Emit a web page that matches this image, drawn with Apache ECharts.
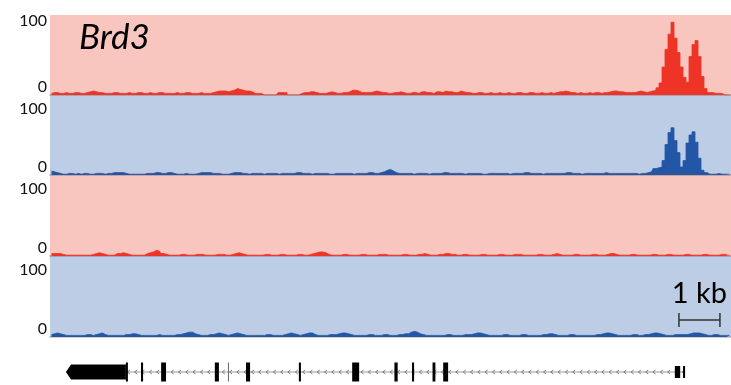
<!DOCTYPE html>
<html>
<head>
<meta charset="utf-8">
<script src="https://cdn.jsdelivr.net/npm/echarts@6/dist/echarts.min.js"></script>
<style>
  html, body { margin: 0; padding: 0; background: #fff; }
  #chart { width: 731px; height: 385px; }
</style>
</head>
<body>
<div id="chart"></div>
<script>
// --- data (3 px bins, 1 kb = 41 px) ---
const BIN_KB = 3 / 41
const geneName = "Brd3"
const yTickLabels = ["0", "100"]

// track 1 (red)
const red1 = [
  2,3,3,2,2,3,2,2,3,3, 2,2,3,4,5,4,3,3,2,2, 2,3,3,2,2,2,3,2,2,3, 3,2,2,3,2,2,3,3,2,2,
  2,2,3,2,2,3,3,2,2,2, 3,2,2,2,3,4,5,5,5,4, 5,6,8,7,6,5,5,4,2,2, 2,0,0,0,0,0,3,3,3,0,
  0,0,0,2,3,3,4,4,3,2, 2,2,3,4,3,2,2,3,3,4, 6,6,5,3,3,3,3,4,5,4, 3,3,2,2,3,3,4,3,2,2,
  3,3,2,4,4,3,3,2,4,4, 3,5,4,4,3,3,5,4,3,3, 2,2,3,3,2,2,3,2,2,3, 2,2,3,2,2,3,3,2,2,3,
  3,2,2,3,2,2,3,2,3,4, 4,5,4,3,3,2,3,2,2,3, 2,3,3,2,3,3,4,5,5,4, 4,3,3,3,3,4,5,4,3,4,
  5,6,9,15,35,57,76,91,71,53, 35,22,16,48,63,68,48,23,8,3, 3,2,2,2,0,0,0
]
// track 2 (blue)
const blue1 = [
  5,4,3,2,1,1,2,2,1,2, 1,2,2,1,1,2,2,2,1,2, 2,3,3,3,3,2,1,1,1,1, 1,1,2,2,2,3,3,2,2,3,
  3,2,1,1,1,2,1,1,1,2, 3,3,3,3,2,2,2,1,1,1, 2,3,3,3,2,2,1,2,2,2, 2,1,2,2,2,2,1,2,2,2,
  2,2,3,3,2,2,2,1,2,2, 2,2,2,1,1,2,2,2,2,2, 2,1,2,2,2,2,3,3,2,2, 3,4,6,7,5,3,2,2,2,2,
  2,1,2,2,2,2,1,2,2,2, 2,3,3,2,2,2,2,2,1,2, 2,2,2,2,1,1,2,2,2,2, 2,2,2,1,2,2,2,2,3,3,
  2,2,2,2,1,2,2,2,2,2, 2,2,3,3,2,2,2,1,2,2, 2,2,2,2,2,3,2,2,2,2, 2,2,2,2,2,2,1,2,2,3,
  4,8,9,10,18,38,53,59,43,28, 10,18,40,50,54,41,21,6,3,1, 1,1,2,1,1,1,1
]
// track 3 (red)
const red2 = [
  3,3,3,3,2,1,1,1,1,1, 1,1,1,1,2,3,4,3,2,1, 1,1,3,3,4,3,2,1,1,1, 1,1,3,4,5,7,6,3,2,1,
  1,1,1,2,2,1,1,1,2,2, 2,1,1,1,1,2,2,2,1,1, 2,3,4,3,2,1,1,1,1,1, 1,2,2,1,1,1,2,2,1,1,
  1,1,2,2,1,1,2,3,4,5, 5,4,2,1,1,1,1,2,2,1, 1,1,1,2,2,1,1,1,1,2, 2,2,1,1,1,1,1,2,2,1,
  1,1,2,2,3,2,1,1,1,2, 2,3,3,2,2,1,1,2,2,1, 1,1,1,2,2,1,1,1,1,2, 2,1,1,1,2,2,2,1,1,1,
  1,1,2,2,1,1,1,2,3,2, 1,1,1,1,2,2,1,1,1,1, 2,2,1,1,1,2,3,3,2,1, 1,1,1,2,2,1,1,1,1,1,
  2,2,1,1,1,2,2,1,1,1, 1,2,2,1,1,1,1,2,2,1, 1,1,1,2,2,1,1
]
// track 4 (blue)
const blue2 = [
  3,4,5,4,3,2,2,2,2,2, 2,2,3,3,2,3,4,5,3,2, 2,2,2,2,2,3,3,4,4,3, 2,2,2,2,2,2,3,2,2,2,
  2,2,3,3,4,5,6,6,4,3, 2,2,2,3,3,4,5,4,3,2, 3,4,5,4,3,2,2,2,2,2, 2,2,3,3,2,2,2,2,3,4,
  5,4,3,2,3,4,5,5,3,2, 2,2,2,3,3,3,4,5,5,4, 3,2,2,2,2,2,3,3,2,2, 2,3,3,2,2,2,3,3,4,4,
  6,7,6,4,3,2,2,2,2,2, 2,2,3,3,2,2,2,2,3,3, 3,4,5,5,4,3,2,2,2,2, 2,3,3,2,2,2,2,3,3,2,
  2,2,2,2,3,3,4,4,3,2, 2,2,2,3,3,2,2,2,2,2, 2,2,3,3,4,5,5,4,3,2, 2,2,2,2,3,3,2,2,3,3,
  4,5,5,4,3,2,2,2,3,3, 3,3,3,4,5,5,5,4,3,2, 2,3,3,2,2,2,2
]

// gene model (kb from left edge): [start, end, kind]
const exons = [
  [0.39, 1.85, "arrow"],
  [1.85, 1.90, "cds"], [2.22, 2.27, "cds"], [2.71, 2.83, "cds"], [4.02, 4.12, "cds"],
  [4.34, 4.36, "faint"], [4.78, 4.88, "cds"], [6.07, 6.12, "cds"], [7.37, 7.54, "cds"],
  [8.40, 8.48, "cds"], [8.83, 8.88, "cds"], [9.33, 9.40, "cds"], [9.59, 9.71, "cds"],
  [15.24, 15.37, "utr"], [15.44, 15.49, "utr"]
]
const intron = [0.39, 15.49]
const scaleBarKb = [15.34, 16.34]
const scaleBarLabel = "1 kb"

const tracks = [
  { data: red1, fill: "#ee3327", bg: "#f9c5bf", top: 15, height: 80, padTop: 11 },
  { data: blue1, fill: "#2357a6", bg: "#bdcde6", top: 95, height: 80, padTop: 28 },
  { data: red2, fill: "#ee3327", bg: "#f9c5bf", top: 175, height: 81, padTop: 28 },
  { data: blue2, fill: "#2357a6", bg: "#bdcde6", top: 256, height: 81, padTop: 28 }
]

const nBins = red1.length
const bins = red1.map((_, i) => String(i))
const FONT = "Lato"

const chart = echarts.init(document.getElementById("chart"), null, { renderer: "canvas" })

const grids = tracks.map(t => ({
  left: 50, right: 0, top: t.top, height: t.height,
  show: true, backgroundColor: t.bg, borderWidth: 0
}))
grids.push({ left: 50, right: 0, top: 359, height: 30 })

const xAxes = tracks.map((t, i) => ({
  type: "category", gridIndex: i, data: bins, boundaryGap: true,
  axisTick: { show: false }, axisLabel: { show: false },
  axisLine: { show: true, lineStyle: { color: "rgba(110,80,80,0.3)", width: 2 } }
}))
xAxes.push({ type: "value", gridIndex: 4, min: 0, max: nBins * BIN_KB, show: false })

const yAxes = tracks.map((t, i) => ({
  type: "value", gridIndex: i, min: 0, max: 100, interval: 100,
  splitLine: { show: false }, axisLine: { show: false }, axisTick: { show: false },
  axisLabel: {
    margin: 3,
    formatter: v => v === 100 ? `{hi|${yTickLabels[1]}}` : `{lo|${yTickLabels[0]}}`,
    rich: {
      hi: { fontFamily: FONT, fontSize: 16, color: "#111", padding: [t.padTop, 0, 0, 0] },
      lo: { fontFamily: FONT, fontSize: 16, color: "#111", padding: [0, 0, 16, 0] }
    }
  }
}))
yAxes.push({ type: "value", gridIndex: 4, min: -1, max: 1, show: false })

// coverage tracks as stepped filled areas
const series = tracks.map((t, i) => ({
  type: "line", xAxisIndex: i, yAxisIndex: i, data: t.data,
  step: "middle", symbol: "none", silent: true,
  lineStyle: { color: t.fill, width: 0.8 },
  areaStyle: { color: t.fill, opacity: 1 }
}))

// intron line with small chevrons
series.push({
  type: "custom", xAxisIndex: 4, yAxisIndex: 4, silent: true,
  data: [intron],
  renderItem: (params, api) => {
    const a = api.coord([api.value(0), 0])
    const b = api.coord([api.value(1), 0])
    const children = [{
      type: "line", shape: { x1: a[0], y1: a[1], x2: b[0], y2: b[1] },
      style: { stroke: "#999", lineWidth: 1 }
    }]
    for (let x = a[0] + 4; x < b[0]; x += 7.3) {
      children.push({
        type: "polyline",
        shape: { points: [[x + 1.5, a[1] - 2], [x - 1, a[1]], [x + 1.5, a[1] + 2]] },
        style: { stroke: "#777", lineWidth: 1, fill: null }
      })
    }
    return { type: "group", children }
  }
})

// exons
series.push({
  type: "custom", xAxisIndex: 4, yAxisIndex: 4, silent: true,
  data: exons,
  renderItem: (params, api) => {
    const kind = exons[params.dataIndex][2]
    const s = api.coord([api.value(0), 0])
    const e = api.coord([api.value(1), 0])
    const cy = s[1]
    if (kind === "arrow") {
      const h = 7.5
      return {
        type: "polygon",
        shape: { points: [[s[0], cy], [s[0] + 5, cy - h], [e[0], cy - h], [e[0], cy + h], [s[0] + 5, cy + h]] },
        style: { fill: "#000" }
      }
    }
    const h = kind === "utr" ? 6 : 9.5
    const w = Math.max(kind === "faint" ? 1 : 2, e[0] - s[0])
    return {
      type: "rect",
      shape: { x: s[0], y: cy - h, width: w, height: h * 2 },
      style: { fill: kind === "faint" ? "#666" : "#000" }
    }
  }
})

chart.setOption({
  animation: false,
  grid: grids,
  xAxis: xAxes,
  yAxis: yAxes,
  series: series
})

// annotations: gene name and scale bar
const p0 = chart.convertToPixel({ gridIndex: 4 }, [scaleBarKb[0], 0])[0]
const p1 = chart.convertToPixel({ gridIndex: 4 }, [scaleBarKb[1], 0])[0]
const barY = 320
chart.setOption({
  graphic: [
    {
      type: "text", left: 79, top: 20,
      style: { text: geneName, font: `italic 35px ${FONT}`, fill: "#000" }
    },
    {
      type: "group", children: [
        { type: "line", shape: { x1: p0, y1: barY, x2: p1, y2: barY }, style: { stroke: "#333", lineWidth: 1.5 } },
        { type: "line", shape: { x1: p0, y1: barY - 7, x2: p0, y2: barY + 7 }, style: { stroke: "#333", lineWidth: 1.5 } },
        { type: "line", shape: { x1: p1, y1: barY - 7, x2: p1, y2: barY + 7 }, style: { stroke: "#333", lineWidth: 1.5 } }
      ]
    },
    {
      type: "text", x: (p0 + p1) / 2, y: 308,
      style: { text: scaleBarLabel, font: `29px ${FONT}`, fill: "#000", textAlign: "center", textVerticalAlign: "bottom" }
    }
  ]
})
</script>
</body>
</html>
